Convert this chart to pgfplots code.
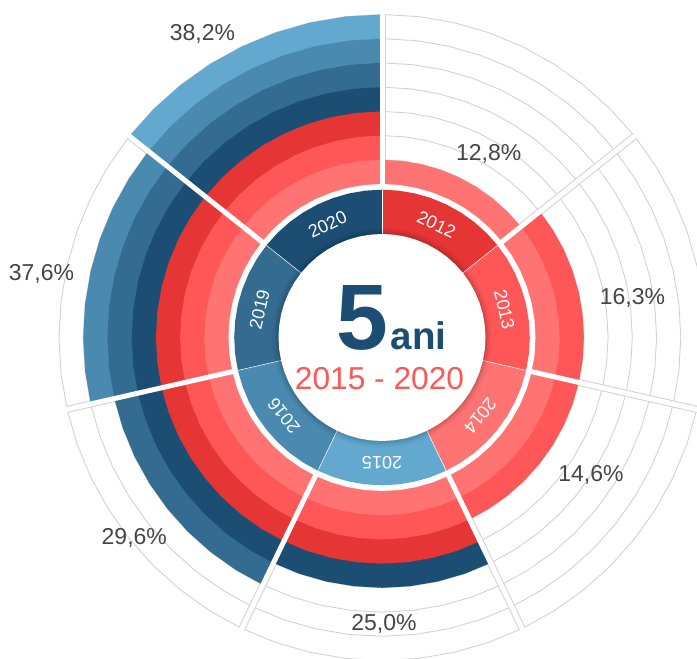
\documentclass[border=0pt]{standalone}
\usepackage{fontspec}
\setmainfont{Liberation Sans}
\usepackage{pgfplots}
\pgfplotsset{compat=1.18}
\definecolor{lr}{HTML}{FF7373}
\definecolor{rr}{HTML}{FF5757}
\definecolor{dr}{HTML}{E53535}
\definecolor{bA}{HTML}{1C4E73}
\definecolor{bB}{HTML}{346B90}
\definecolor{bC}{HTML}{4A8AB0}
\definecolor{bD}{HTML}{62A8CF}
\definecolor{gridc}{HTML}{D2D2D2}
\definecolor{txt}{HTML}{454545}
% arc points (angle, radius) of the seven sectors
\def\sA#1{(38.571,#1) (45,#1) (51.429,#1) (57.857,#1) (64.286,#1) (70.714,#1) (77.143,#1) (83.571,#1) (90,#1)}
\def\sB#1{(-12.857,#1) (-6.429,#1) (0,#1) (6.429,#1) (12.857,#1) (19.286,#1) (25.714,#1) (32.143,#1) (38.571,#1)}
\def\sC#1{(-64.286,#1) (-57.857,#1) (-51.429,#1) (-45,#1) (-38.571,#1) (-32.143,#1) (-25.714,#1) (-19.286,#1) (-12.857,#1)}
\def\sD#1{(-115.714,#1) (-109.286,#1) (-102.857,#1) (-96.429,#1) (-90,#1) (-83.571,#1) (-77.143,#1) (-70.714,#1) (-64.286,#1)}
\def\sE#1{(-167.143,#1) (-160.714,#1) (-154.286,#1) (-147.857,#1) (-141.429,#1) (-135,#1) (-128.571,#1) (-122.143,#1) (-115.714,#1)}
\def\sF#1{(141.429,#1) (147.857,#1) (154.286,#1) (160.714,#1) (167.143,#1) (173.571,#1) (180,#1) (186.429,#1) (192.857,#1)}
\def\sG#1{(90,#1) (96.429,#1) (102.857,#1) (109.286,#1) (115.714,#1) (122.143,#1) (128.571,#1) (135,#1) (141.429,#1)}
\def\full#1{\sG{#1} \sF{#1} \sE{#1} \sD{#1} \sC{#1} \sB{#1} \sA{#1}}
\newcommand\sect[3]{\edef\mytmp{\noexpand\addplot[fill=#1,draw=none,data cs=polar] coordinates {(0,0) #2{#3} (0,0)};}\mytmp}
\newcommand\ring[2]{\edef\mytmp{\noexpand\addplot[draw=#2, line width=0.9pt, data cs=polar] coordinates {\full{#1}};}\mytmp}
\newcommand\disk[3]{\edef\mytmp{\noexpand\addplot[fill=#2, fill opacity=#3, draw=none, data cs=polar] coordinates {\full{#1}};}\mytmp}
\newcommand\spoke[5]{\addplot[draw=#2, line width=#3pt, data cs=polar] coordinates {(#1,#4) (#1,#5)};}
\begin{document}
\begin{tikzpicture}
\useasboundingbox (0,0) rectangle (697pt,659pt);
\begin{axis}[at={(0,0)}, anchor=south west, x=1pt, y=1pt,
  xmin=-382, xmax=315, ymin=-321.5, ymax=337.5, hide axis, clip=true]
% grid rings
\ring{177.7}{gridc}\ring{201.9}{gridc}\ring{226.1}{gridc}\ring{250.3}{gridc}
\ring{274.6}{gridc}\ring{298.8}{gridc}\ring{323.0}{gridc}
% sector borders (grey)
\spoke{90}{gridc}{7}{153.5}{323.4}
\spoke{38.571}{gridc}{7}{153.5}{323.4}
\spoke{-12.857}{gridc}{7}{153.5}{323.4}
\spoke{-64.286}{gridc}{7}{153.5}{323.4}
\spoke{-115.714}{gridc}{7}{153.5}{323.4}
\spoke{-167.143}{gridc}{7}{153.5}{323.4}
\spoke{141.429}{gridc}{7}{153.5}{323.4}
% 2012: 12,8%
\sect{lr}{\sA}{177.7}
% 2013: 16,3%
\sect{rr}{\sB}{201.9}\sect{lr}{\sB}{177.7}
% 2014: 14,6%
\sect{rr}{\sC}{201.9}\sect{lr}{\sC}{177.7}
% 2015: 25,0%
\sect{bA}{\sD}{250.3}\sect{dr}{\sD}{226.1}\sect{rr}{\sD}{201.9}\sect{lr}{\sD}{177.7}
% 2016: 29,6%
\sect{bB}{\sE}{274.6}\sect{bA}{\sE}{250.3}\sect{dr}{\sE}{226.1}\sect{rr}{\sE}{201.9}\sect{lr}{\sE}{177.7}
% 2019: 37,6%
\sect{bC}{\sF}{298.8}\sect{bB}{\sF}{274.6}\sect{bA}{\sF}{250.3}\sect{dr}{\sF}{226.1}\sect{rr}{\sF}{201.9}\sect{lr}{\sF}{177.7}
% 2020: 38,2%
\sect{bD}{\sG}{323.0}\sect{bC}{\sG}{298.8}\sect{bB}{\sG}{274.6}\sect{bA}{\sG}{250.3}\sect{dr}{\sG}{226.1}\sect{rr}{\sG}{201.9}\sect{lr}{\sG}{177.7}
% white ring between bars and year ring
\disk{153.5}{white}{1}
% white gaps
\spoke{90}{white}{5}{146}{335}
\spoke{38.571}{white}{5}{146}{335}
\spoke{-12.857}{white}{5}{146}{335}
\spoke{-64.286}{white}{5}{146}{335}
\spoke{-115.714}{white}{5}{146}{335}
\spoke{-167.143}{white}{5}{146}{335}
\spoke{141.429}{white}{5}{146}{335}
% year ring
\sect{dr}{\sA}{147.8}
\sect{rr}{\sB}{147.8}
\sect{lr}{\sC}{147.8}
\sect{bD}{\sD}{147.8}
\sect{bC}{\sE}{147.8}
\sect{bB}{\sF}{147.8}
\sect{bA}{\sG}{147.8}
% faint seams in the year ring
\spoke{90}{white}{0.5}{100}{147.8}
\spoke{38.571}{white}{0.5}{100}{147.8}
\spoke{-12.857}{white}{0.5}{100}{147.8}
\spoke{-64.286}{white}{0.5}{100}{147.8}
\spoke{-115.714}{white}{0.5}{100}{147.8}
\spoke{-167.143}{white}{0.5}{100}{147.8}
\spoke{141.429}{white}{0.5}{100}{147.8}
% centre disk with shadow
\disk{110}{black}{0.03}
\disk{108}{black}{0.04}
\disk{106.5}{black}{0.05}
\disk{105}{black}{0.06}
\disk{103.5}{white}{1}
% year labels
\begin{scope}[every node/.style={text=white, font=\fontsize{18}{18}\selectfont, inner sep=0pt}]
\node[rotate=-25.714] at (axis cs:54.45,113.07) {2012};
\node[rotate=-77.143] at (axis cs:122.35,27.93) {2013};
\node[rotate=-128.571] at (axis cs:98.12,-78.25) {2014};
\node[rotate=180] at (axis cs:0,-125.5) {2015};
\node[rotate=128.571] at (axis cs:-98.12,-78.25) {2016};
\node[rotate=77.143] at (axis cs:-122.35,27.93) {2019};
\node[rotate=25.714] at (axis cs:-54.45,113.07) {2020};
\end{scope}
% percentages
\begin{scope}[every node/.style={text=txt, font=\fontsize{23}{23}\selectfont, inner sep=0pt, anchor=base}]
\node at (axis cs:106.7,176.8) {12,8\%};
\node at (axis cs:250.5,32.5) {16,3\%};
\node at (axis cs:209,-144.2) {14,6\%};
\node at (axis cs:2,-293.2) {25,0\%};
\node at (axis cs:-247.7,-206.8) {29,6\%};
\node at (axis cs:-340.5,56.5) {37,6\%};
\node at (axis cs:-179.5,296.8) {38,2\%};
\end{scope}
% centre text
\node[anchor=base west, inner sep=0pt, text=bA, font=\fontsize{93}{93}\selectfont\bfseries] at (axis cs:-45.5,-12.5) {5};
\node[anchor=base west, inner sep=0pt, text=bA, font=\fontsize{38.5}{38.5}\selectfont\bfseries] at (axis cs:8.5,-12.5) {ani};
\node[anchor=base, inner sep=0pt, text=rr, font=\fontsize{31.7}{31.7}\selectfont] at (axis cs:-2.5,-51.8) {2015 - 2020};
\end{axis}
\end{tikzpicture}
\end{document}
